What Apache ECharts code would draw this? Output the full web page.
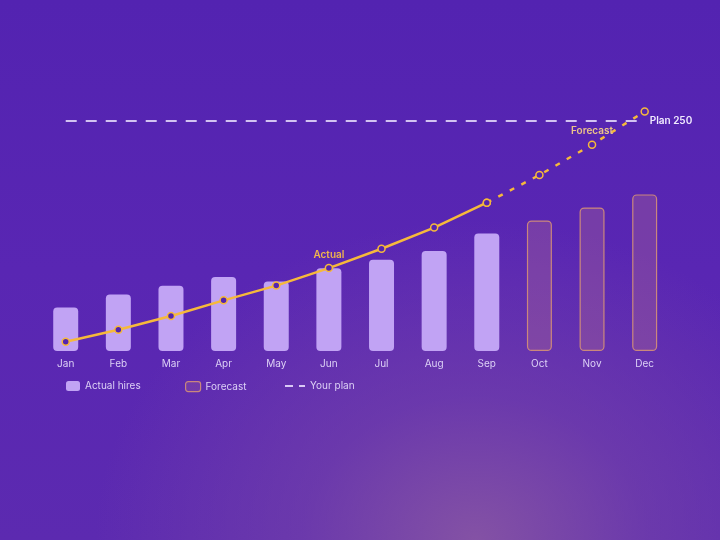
<!DOCTYPE html>
<html>
<head>
<meta charset="utf-8">
<script src="https://cdn.jsdelivr.net/npm/echarts@6/dist/echarts.min.js"></script>
<style>
  html, body {
    margin: 0;
    padding: 0;
    width: 720px;
    height: 540px;
    overflow: hidden;
  }
  body {
    background:
      radial-gradient(ellipse 380px 320px at 66% 100%, rgba(134, 84, 164, 0.95) 0%, rgba(120, 70, 168, 0.55) 45%, rgba(100, 50, 175, 0) 100%),
      linear-gradient(180deg, #5323b1 0%, #5926b3 50%, #5c2ab0 100%);
  }
  #chart {
    width: 720px;
    height: 540px;
  }
</style>
</head>
<body>
<div id="chart"></div>
<script>
// months on the x axis
const months = ['Jan', 'Feb', 'Mar', 'Apr', 'May', 'Jun', 'Jul', 'Aug', 'Sep', 'Oct', 'Nov', 'Dec']

// monthly hires (bars): actual Jan-Sep, forecast Oct-Dec
const actualHires = [10, 13, 15, 17, 16, 19, 21, 23, 27]
const forecastHires = [30, 33, 36]

// running total (line): actual Jan-Sep, forecast Sep-Dec
const actualTotal = [10, 23, 38, 55, 71, 90, 111, 134, 161]
const forecastTotal = [161, 191, 224, 260]

// plan target
const planTarget = 250

const nActual = actualHires.length
const pad = n => Array(n).fill('-')

const barActualData = actualHires.concat(pad(months.length - nActual))
const barForecastData = pad(nActual).concat(forecastHires)
const lineActualData = actualTotal.concat(pad(months.length - nActual))
const lineForecastData = pad(nActual - 1).concat(forecastTotal)

const YELLOW = '#f6b93b'
const LAVENDER = '#c1a3f4'
const DOT_FILL = '#5424b0'
const TEXT = '#ddd1f6'
const FONT = 'Inter, "Noto Sans", sans-serif'
const FC_FILL = 'rgba(185, 112, 145, 0.32)'
const FC_BORDER = 'rgba(226, 156, 112, 0.8)'

const chart = echarts.init(document.getElementById('chart'), null, { renderer: 'canvas' })

const legendText = { color: TEXT, fontSize: 10, fontFamily: FONT }

const option = {
  backgroundColor: 'transparent',
  animation: false,
  textStyle: { fontFamily: FONT },
  grid: {
    left: 39.4,
    right: 49,
    top: 90,
    bottom: 189,
    containLabel: false
  },
  legend: [
    {
      left: 66, top: 381, padding: 0,
      itemWidth: 14, itemHeight: 10, itemGap: 6,
      textStyle: legendText,
      data: [{ name: 'Actual hires', icon: 'roundRect', itemStyle: { color: LAVENDER } }]
    },
    {
      left: 185, top: 381, padding: 0,
      itemWidth: 15, itemHeight: 10, itemGap: 6,
      textStyle: legendText,
      data: [{
        name: 'Forecast', icon: 'roundRect',
        itemStyle: { color: 'rgba(190, 120, 150, 0.2)', borderColor: FC_BORDER, borderWidth: 1.2 }
      }]
    },
    {
      left: 285, top: 381, padding: 0,
      itemWidth: 20, itemHeight: 10, itemGap: 5,
      textStyle: legendText,
      data: [{
        name: 'Your plan',
        icon: 'path://M0,4h8v2h-8z M14,4h6v2h-6z M0,0h0.01v10h-0.01z',
        itemStyle: { color: '#d9c9f6' }
      }]
    }
  ],
  xAxis: {
    type: 'category',
    data: months,
    boundaryGap: true,
    axisLine: { show: false },
    axisTick: { show: false },
    axisLabel: { color: TEXT, fontSize: 10, margin: 8, fontFamily: FONT }
  },
  yAxis: [
    { type: 'value', min: 0, max: 60, show: false, splitLine: { show: false } },
    { type: 'value', min: 0, max: 283.3, show: false, splitLine: { show: false } }
  ],
  series: [
    {
      name: 'Actual hires',
      type: 'bar',
      stack: 'hires',
      yAxisIndex: 0,
      barWidth: 25,
      data: barActualData,
      itemStyle: { color: LAVENDER, borderRadius: 4 },
      z: 2
    },
    {
      name: 'Forecast',
      type: 'bar',
      stack: 'hires',
      yAxisIndex: 0,
      barWidth: 25,
      data: barForecastData,
      itemStyle: {
        color: FC_FILL,
        borderColor: FC_BORDER,
        borderWidth: 1.2,
        borderRadius: 4
      },
      z: 2
    },
    {
      name: 'Your plan',
      type: 'line',
      yAxisIndex: 1,
      data: [],
      silent: true,
      markLine: {
        symbol: 'none',
        silent: true,
        lineStyle: { color: '#d2c2f2', width: 2, type: [11, 9] },
        label: {
          show: true,
          position: 'end',
          distance: 5,
          formatter: 'Plan ' + planTarget,
          color: '#f1ebff',
          fontSize: 10,
          fontWeight: 600,
          fontFamily: FONT
        },
        data: [[{ coord: [0, planTarget] }, { coord: [months.length - 1, planTarget] }]]
      },
      z: 3
    },
    {
      name: 'Actual total',
      type: 'line',
      yAxisIndex: 1,
      data: lineActualData,
      symbol: 'circle',
      symbolSize: 7,
      lineStyle: { color: YELLOW, width: 2.5 },
      itemStyle: { color: DOT_FILL, borderColor: YELLOW, borderWidth: 1.5 },
      label: {
        show: true,
        position: 'top',
        distance: 4,
        color: '#f0b54c',
        fontSize: 10,
        fontWeight: 600,
        fontFamily: FONT,
        formatter: p => (p.dataIndex === 5 ? 'Actual' : '')
      },
      z: 5
    },
    {
      name: 'Forecast total',
      type: 'line',
      yAxisIndex: 1,
      data: lineForecastData,
      symbol: 'circle',
      symbolSize: 7,
      showAllSymbol: true,
      lineStyle: { color: YELLOW, width: 2.5, type: [5, 8] },
      itemStyle: { color: DOT_FILL, borderColor: YELLOW, borderWidth: 1.5 },
      label: {
        show: true,
        position: 'top',
        distance: 4,
        color: '#ecc488',
        fontSize: 10,
        fontWeight: 600,
        fontFamily: FONT,
        formatter: p => (p.dataIndex === 10 ? 'Forecast' : '')
      },
      z: 4
    }
  ]
}

chart.setOption(option)
</script>
</body>
</html>
